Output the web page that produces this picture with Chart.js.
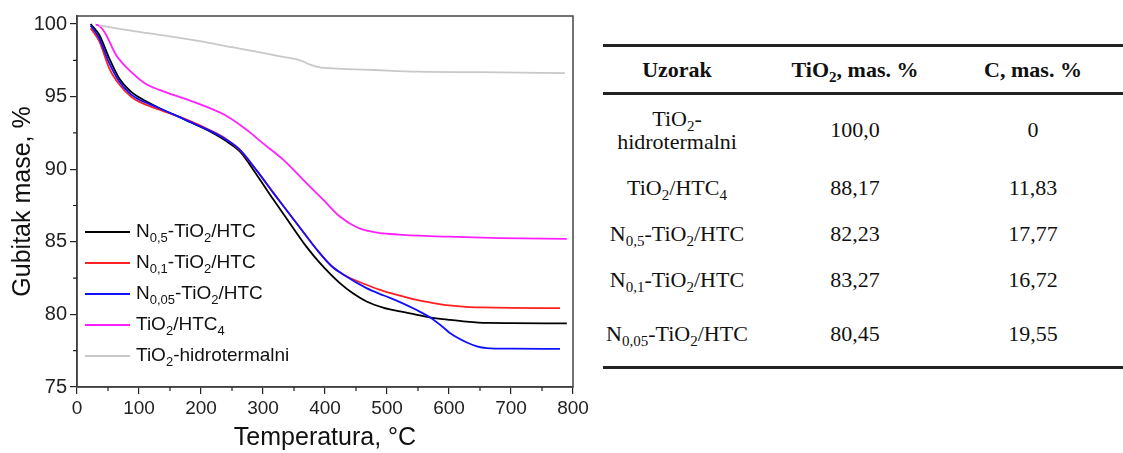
<!DOCTYPE html>
<html>
<head>
<meta charset="utf-8">
<script src="https://cdn.jsdelivr.net/npm/chart.js@4.4.1/dist/chart.umd.min.js"></script>
<style>
  body { margin: 0; background: #fff; width: 1123px; height: 453px; overflow: hidden; position: relative; }
  #wrap { position: absolute; left: 0; top: 0; width: 600px; height: 453px; }
  .legend { position: absolute; left: 85px; top: 232px; font-family: "Liberation Sans", Arial, sans-serif; font-size: 19px; color: #111; }
  .legend .row { position: absolute; left: 0; height: 0; white-space: nowrap; }
  .legend .ln { position: absolute; left: 0; top: -1px; width: 45px; height: 0; border-top: 2px solid; }
  .legend .tx { position: absolute; left: 51px; top: -12px; line-height: 22px; }
  .legend sub { font-size: 13px; vertical-align: -5px; line-height: 0; }
  table { position: absolute; left: 603px; top: 44px; width: 520px; border-collapse: collapse;
          font-family: "Liberation Serif", "Times New Roman", serif; font-size: 22px; color: #111;
          border-top: 3px solid #222; border-bottom: 3px solid #222; }
  th, td { text-align: center; padding: 0; }
  th { font-weight: bold; height: 45px; border-bottom: 3px solid #222; }
  td sub, th sub { font-size: 15px; vertical-align: -5px; line-height: 0; }
  .c1 { width: 148px; } .c2 { width: 208px; } .c3 { width: 148px; padding-right: 16px; }
</style>
</head>
<body>
<div id="wrap"><canvas id="tga" width="600" height="453"></canvas></div>

<div class="legend">
  <div class="row" style="top:0px"><span class="ln" style="border-color:#000"></span><span class="tx">N<sub>0,5</sub>-TiO<sub>2</sub>/HTC</span></div>
  <div class="row" style="top:31px"><span class="ln" style="border-color:#ff2020"></span><span class="tx">N<sub>0,1</sub>-TiO<sub>2</sub>/HTC</span></div>
  <div class="row" style="top:62px"><span class="ln" style="border-color:#1010ff"></span><span class="tx">N<sub>0,05</sub>-TiO<sub>2</sub>/HTC</span></div>
  <div class="row" style="top:93px"><span class="ln" style="border-color:#ff20ff"></span><span class="tx">TiO<sub>2</sub>/HTC<sub>4</sub></span></div>
  <div class="row" style="top:124px"><span class="ln" style="border-color:#c8c8c8"></span><span class="tx">TiO<sub>2</sub>-hidrotermalni</span></div>
</div>

<table>
  <tr><th class="c1">Uzorak</th><th class="c2">TiO<sub>2</sub>, mas. %</th><th class="c3">C, mas. %</th></tr>
  <tr style="height:72px"><td style="line-height:23px">TiO<sub>2</sub>-<br>hidrotermalni</td><td>100,0</td><td class="c3">0</td></tr>
  <tr style="height:44px"><td>TiO<sub>2</sub>/HTC<sub>4</sub></td><td>88,17</td><td class="c3">11,83</td></tr>
  <tr style="height:48px"><td>N<sub>0,5</sub>-TiO<sub>2</sub>/HTC</td><td>82,23</td><td class="c3">17,77</td></tr>
  <tr style="height:44px"><td>N<sub>0,1</sub>-TiO<sub>2</sub>/HTC</td><td>83,27</td><td class="c3">16,72</td></tr>
  <tr style="height:66px"><td>N<sub>0,05</sub>-TiO<sub>2</sub>/HTC</td><td>80,45</td><td class="c3">19,55</td></tr>
</table>

<script>
// TGA krive (temperatura °C, masa %)
const tempN05 = [22, 36, 52, 68, 87, 100, 133, 175, 219, 240, 263, 290, 317, 343, 370, 392, 424, 445, 467, 495, 521, 545, 569, 600, 628, 661, 700, 790];
const massN05 = [100, 99.24, 97.64, 96.26, 95.34, 94.95, 94.2, 93.4, 92.5, 91.95, 91.21, 89.6, 87.89, 86.3, 84.67, 83.53, 82.15, 81.45, 80.89, 80.45, 80.2, 80.0, 79.8, 79.63, 79.5, 79.41, 79.4, 79.38];

const tempN01 = [22, 36, 52, 68, 87, 100, 133, 175, 219, 240, 263, 290, 317, 343, 360, 387, 410, 430, 467, 495, 521, 548, 575, 600, 628, 655, 700, 779];
const massN01 = [99.7, 98.8, 96.95, 95.85, 95.0, 94.65, 94.1, 93.45, 92.6, 92.1, 91.3, 89.9, 88.35, 86.9, 85.95, 84.45, 83.35, 82.73, 82.04, 81.6, 81.3, 81.0, 80.78, 80.62, 80.52, 80.48, 80.45, 80.43];

const tempN005 = [22, 36, 52, 68, 87, 100, 133, 175, 219, 240, 263, 290, 317, 343, 360, 387, 410, 430, 467, 495, 521, 548, 569, 591, 602, 628, 645, 661, 700, 779];
const massN005 = [99.9, 99.0, 97.3, 96.05, 95.15, 94.8, 94.2, 93.4, 92.55, 92.05, 91.33, 89.9, 88.35, 86.9, 85.95, 84.45, 83.35, 82.73, 81.81, 81.3, 80.85, 80.3, 79.8, 79.1, 78.7, 78.08, 77.8, 77.68, 77.64, 77.63];

const tempHTC4 = [30, 35, 45, 63, 90, 110, 133, 187, 240, 263, 283, 295, 333, 370, 397, 424, 451, 470, 489, 520, 553, 600, 682, 790];
const massHTC4 = [99.95, 99.9, 99.4, 97.87, 96.6, 95.9, 95.46, 94.65, 93.7, 93.05, 92.4, 91.95, 90.64, 89.04, 87.9, 86.74, 86.0, 85.75, 85.6, 85.5, 85.42, 85.35, 85.25, 85.2];

const tempHidro = [36, 100, 150, 200, 250, 289, 330, 360, 375, 390, 420, 480, 550, 650, 787];
const massHidro = [99.9, 99.45, 99.15, 98.8, 98.4, 98.1, 97.75, 97.5, 97.22, 97.03, 96.93, 96.83, 96.72, 96.68, 96.62];

const xTicks = [0, 100, 200, 300, 400, 500, 600, 700, 800];
const yTicks = [75, 80, 85, 90, 95, 100];

const toPts = (t, m) => t.map((x, i) => ({ x: x, y: m[i] }));

const series = [
    { label: 'N0,5-TiO2/HTC', data: toPts(tempN05, massN05), color: '#000000' },
    { label: 'N0,1-TiO2/HTC', data: toPts(tempN01, massN01), color: '#ff2020' },
    { label: 'N0,05-TiO2/HTC', data: toPts(tempN005, massN005), color: '#1010ff' },
    { label: 'TiO2/HTC4', data: toPts(tempHTC4, massHTC4), color: '#ff20ff' },
    { label: 'TiO2-hidrotermalni', data: toPts(tempHidro, massHidro), color: '#c8c8c8' }
];

// okvir + sporedne podjele
const framePlugin = {
    id: 'frame',
    afterDraw(chart) {
        const { ctx, chartArea: a, scales } = chart;
        ctx.save();
        ctx.strokeStyle = '#444';
        ctx.lineWidth = 1.5;
        ctx.strokeRect(a.left, a.top, a.right - a.left, a.bottom - a.top);
        ctx.strokeStyle = '#222';
        ctx.lineWidth = 1.2;
        ctx.beginPath();
        for (let v = 50; v < 800; v += 100) {
            const px = scales.x.getPixelForValue(v);
            ctx.moveTo(px, a.bottom); ctx.lineTo(px, a.bottom + 4);
        }
        for (let v = 77.5; v < 100; v += 5) {
            const py = scales.y.getPixelForValue(v);
            ctx.moveTo(a.left, py); ctx.lineTo(a.left - 4, py);
        }
        ctx.stroke();
        ctx.restore();
    }
};

new Chart(document.getElementById('tga'), {
    type: 'line',
    data: {
        datasets: series.map(s => ({
            label: s.label,
            data: s.data,
            borderColor: s.color,
            borderWidth: 1.8,
            pointRadius: 0,
            cubicInterpolationMode: 'monotone',
            fill: false
        })).reverse()
    },
    options: {
        responsive: false,
        animation: false,
        devicePixelRatio: 1,
        layout: { padding: { left: 0, top: 16, right: 27, bottom: 0 } },
        plugins: { legend: { display: false }, tooltip: { enabled: false } },
        scales: {
            x: {
                type: 'linear', min: 0, max: 800,
                afterBuildTicks: s => { s.ticks = xTicks.map(v => ({ value: v })); },
                afterFit: s => { s.height = 66; },
                grid: { drawOnChartArea: false, tickLength: 7, color: '#222', lineWidth: 1.2 },
                border: { color: '#333', width: 1.5 },
                ticks: { color: '#222', padding: 3, maxRotation: 0, font: { family: 'Liberation Sans, Arial', size: 19 } },
                title: { display: true, text: 'Temperatura, °C', color: '#111', padding: { top: 0, bottom: 0 }, font: { family: 'Liberation Sans, Arial', size: 25 } }
            },
            y: {
                min: 75, max: 100.55,
                afterBuildTicks: s => { s.ticks = yTicks.map(v => ({ value: v })); },
                afterFit: s => { s.width = 77; },
                grid: { drawOnChartArea: false, tickLength: 7, color: '#222', lineWidth: 1.2 },
                border: { color: '#333', width: 1.5 },
                ticks: { color: '#222', padding: 3, font: { family: 'Liberation Sans, Arial', size: 20 } },
                title: { display: true, text: 'Gubitak mase, %', color: '#111', padding: { top: 8, bottom: 0 }, font: { family: 'Liberation Sans, Arial', size: 25 } }
            }
        }
    },
    plugins: [framePlugin]
});
</script>
</body>
</html>
